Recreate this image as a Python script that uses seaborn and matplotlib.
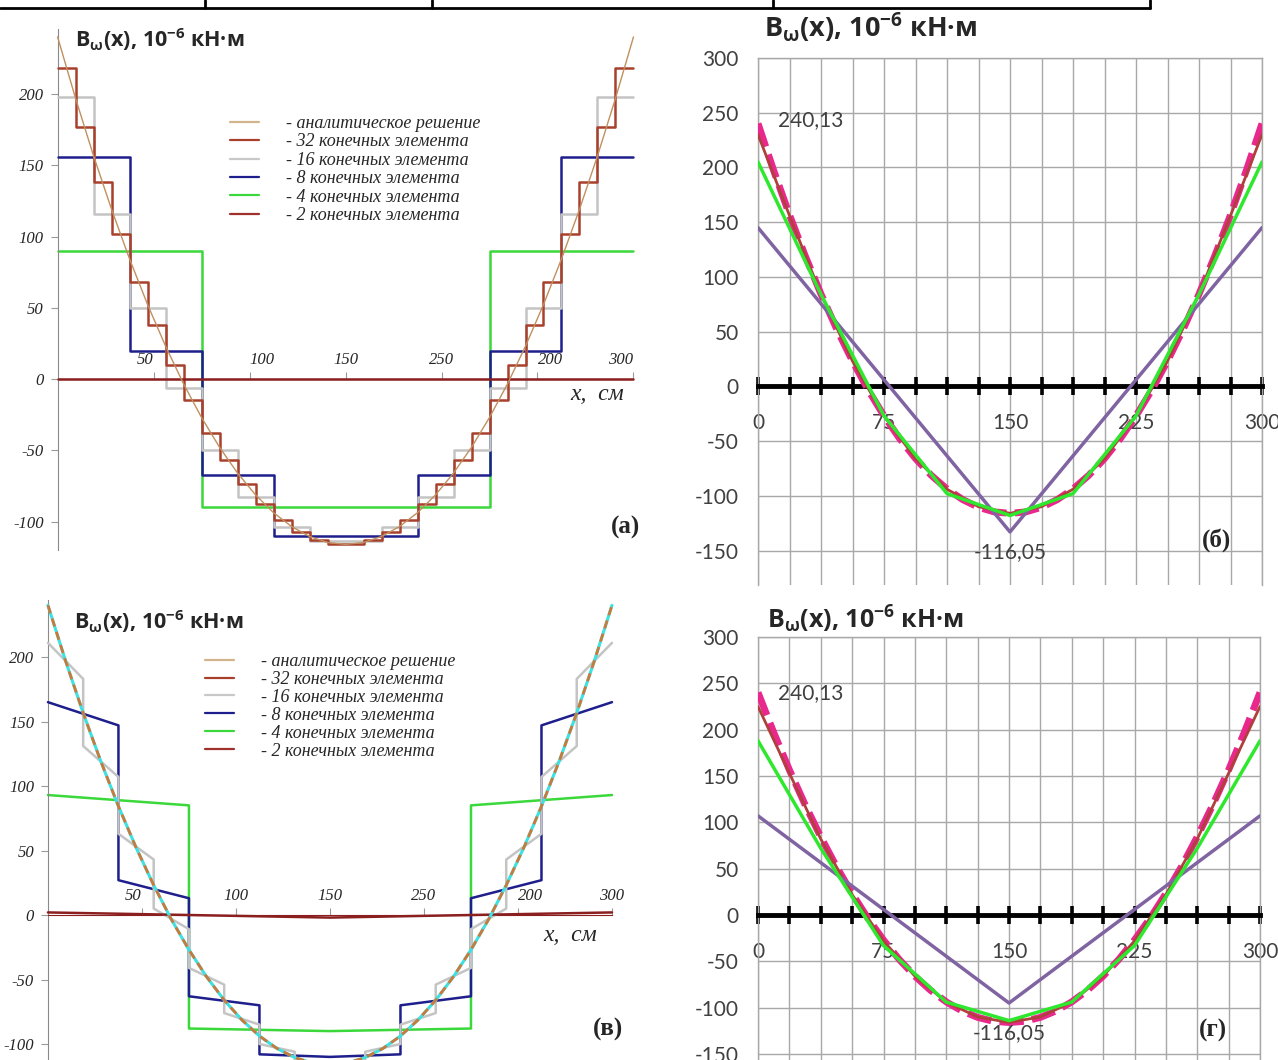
import numpy as np
import matplotlib
matplotlib.use('Agg')
import matplotlib.pyplot as plt
import seaborn as sns
from matplotlib.lines import Line2D
from matplotlib.ticker import FixedLocator
from matplotlib.font_manager import FontProperties

sns.set_style('white')
plt.rcParams['font.family'] = ['Liberation Serif', 'DejaVu Serif']
plt.rcParams['mathtext.default'] = 'regular'

W, H = 1278, 1060

# --- data: B_omega(x), 10^-6 kN*m ; x in cm, beam length 300 cm
x_analytic = np.linspace(0, 300, 33)
analytic = [240.1, 197.0, 156.6, 119.1, 84.3, 52.3, 23.1, -3.4, -27.0, -47.9, -66.0,
            -81.3, -93.8, -103.5, -110.5, -114.7, -116.05, -114.7, -110.5, -103.5, -93.8,
            -81.3, -66.0, -47.9, -27.0, -3.4, 23.1, 52.3, 84.3, 119.1, 156.6, 197.0, 240.1]

# (а) piecewise-constant solutions, one value per element
fe32_a = [218, 177, 138, 102, 68, 38, 10, -15, -38, -57, -74, -88, -99, -107, -113, -116,
          -116, -113, -107, -99, -88, -74, -57, -38, -15, 10, 38, 68, 102, 138, 177, 218]
fe16_a = [198, 116, 50, -6, -50, -83, -104, -114, -114, -104, -83, -50, -6, 50, 116, 198]
fe8_a = [156, 20, -67, -110, -110, -67, 20, 156]
fe4_a = [90, -90, -90, 90]
fe2_a = [0, 0]

# (в) piecewise-linear discontinuous solutions: left / right end value of each element
fe16_v_left = [211, 131, 63, 5, -41, -76, -100, -113, -115, -106, -85, -54, -11, 43, 107, 183]
fe16_v_right = [183, 107, 43, -11, -54, -85, -106, -115, -113, -100, -76, -41, 5, 63, 131, 211]
fe8_v_left = [165, 27, -63, -108, -110, -70, 13, 147]
fe8_v_right = [147, 13, -70, -110, -108, -63, 27, 165]
fe4_v_left = [93, -88, -90, 85]
fe4_v_right = [85, -90, -88, 93]
fe2_v_left = [2, -2]
fe2_v_right = [-2, 2]

# (б), (г) nodal values of continuous solutions
fe16_b = [230, 156, 84, 23, -27, -66, -94, -110, -116, -110, -94, -66, -27, 23, 84, 156, 230]
fe8_b = [205, 84, -27, -98, -118, -98, -27, 84, 205]
fe2_b = [145, -133, 145]
fe16_g = [225, 153, 82, 22, -28, -66, -94, -110, -116, -110, -94, -66, -28, 22, 82, 153, 225]
fe8_g = [188, 72, -33, -94, -114, -94, -33, 72, 188]
fe2_g = [107, -95, 107]

x_ticks_left = [50, 100, 150, 200, 250, 300]
x_ticklabels_left = ['50', '100', '150', '250', '200', '300']
y_ticks_left = [-100, -50, 0, 50, 100, 150, 200]
x_labels_right = ['0', '75', '150', '225', '300']
y_ticks_right = [-150, -100, -50, 0, 50, 100, 150, 200, 250, 300]
legend_labels = ['- аналитическое решение', '- 32 конечных элемента', '- 16 конечных элемента',
                 '- 8 конечных элемента', '- 4 конечных элемента', '- 2 конечных элемента']
legend_colors = ['#d2b48c', '#a8402c', '#c8c8c8', '#1e1e8c', '#3ad83a', '#a0302c']
title = 'B$_{ω}$(x), 10$^{-6}$ кН·м'


def elem_path(left, right):
    edges = np.linspace(0, 300, len(left) + 1)
    xs = np.repeat(edges, 2)[1:-1]
    ys = np.column_stack([left, right]).ravel()
    return xs, ys


def px_axes(x0, y0, x1, y1):
    return fig.add_axes([x0 / W, 1 - y1 / H, (x1 - x0) / W, (y1 - y0) / H])


def line(ax, xs, ys, color, lw, z, ls='-'):
    sns.lineplot(x=xs, y=ys, ax=ax, color=color, lw=lw, zorder=z, sort=False,
                 estimator=None, linestyle=ls)


def style_left(ax, xlim, ylim, ybounds, x_ha):
    ax.set_xlim(xlim)
    ax.set_ylim(ylim)
    ax.spines['right'].set_visible(False)
    ax.spines['bottom'].set_visible(False)
    ax.spines['left'].set_position(('data', 0))
    ax.spines['left'].set_bounds(*ybounds)
    ax.spines['left'].set_color('#8a8a8a')
    ax.spines['top'].set_position(('data', 0))
    ax.spines['top'].set_bounds(0, 300)
    ax.spines['top'].set_color('#8b1f1f')
    ax.xaxis.tick_top()
    ax.set_xticks(x_ticks_left)
    ax.set_xticklabels(x_ticklabels_left)
    ax.set_yticks(y_ticks_left)
    ax.set_yticklabels([str(v) for v in y_ticks_left])
    ax.tick_params(axis='x', top=True, bottom=False, direction='out', length=5, color='#9a9a9a',
                   pad=3, labelsize=12)
    ax.tick_params(axis='y', left=True, direction='out', length=5, color='#9a9a9a', pad=5, labelsize=12)
    for lab, ha in zip(ax.get_xticklabels(), x_ha):
        lab.set_fontstyle('italic')
        lab.set_ha(ha)
    for lab in ax.get_yticklabels():
        lab.set_fontstyle('italic')
    ax.set_xlabel('')
    ax.set_ylabel('')


def style_right(ax, ylim):
    ax.set_xlim(0, 300)
    ax.set_ylim(ylim)
    grid_x = np.linspace(0, 300, 17)
    ax.xaxis.set_major_locator(FixedLocator(grid_x))
    ax.set_xticklabels([x_labels_right[i // 4] if i % 4 == 0 else '' for i in range(17)])
    ax.set_yticks(y_ticks_right)
    ax.set_yticklabels([str(v) for v in y_ticks_right])
    ax.grid(True, color='#a8a8a8', lw=1)
    for s in ['left', 'top', 'right']:
        ax.spines[s].set_color('#a8a8a8')
        ax.spines[s].set_linewidth(1)
    ax.spines['bottom'].set_position(('data', 0))
    ax.spines['bottom'].set_color('black')
    ax.spines['bottom'].set_linewidth(3.5)
    ax.spines['bottom'].set_zorder(2.6)
    ax.tick_params(axis='x', bottom=True, direction='inout', length=13, width=2.6, color='black',
                   pad=13, labelsize=15, labelcolor='#404040')
    ax.tick_params(axis='y', left=False, length=0, pad=14, labelsize=15, labelcolor='#404040')
    for lab in ax.get_xticklabels() + ax.get_yticklabels():
        lab.set_family(['Lato', 'DejaVu Sans'])
    ax.set_xlabel('')
    ax.set_ylabel('')


fig = plt.figure(figsize=(W / 100, H / 100), dpi=100)

# table border at the very top
fig.add_artist(Line2D([0, 1150 / W], [1 - 8 / H] * 2, color='black', lw=2, transform=fig.transFigure))
for xv in [205, 432, 773, 1150]:
    fig.add_artist(Line2D([xv / W] * 2, [1, 1 - 8 / H], color='black', lw=2, transform=fig.transFigure))

serif_it = FontProperties(family='Liberation Serif', style='italic', size=13)
handles = [Line2D([], [], color=c, lw=1.6) for c in legend_colors]
title_font = ['Open Sans', 'DejaVu Sans']

# ---------- (а)
ax_a = px_axes(0, 20, 645, 560)
line(ax_a, *elem_path(fe4_a, fe4_a), '#3ad83a', 1.8, 2)
line(ax_a, *elem_path(fe8_a, fe8_a), '#1e1e8c', 1.8, 3)
line(ax_a, *elem_path(fe16_a, fe16_a), '#c4c4c4', 1.8, 4)
line(ax_a, *elem_path(fe32_a, fe32_a), '#a8402c', 1.8, 5)
line(ax_a, *elem_path(fe2_a, fe2_a), '#8b1f1f', 1.8, 5)
line(ax_a, x_analytic, analytic, '#c09060', 1.0, 6)
style_left(ax_a, (-30, 306), (-127, 252), (-120, 246),
           ['right', 'left', 'center', 'center', 'left', 'right'])
ax_a.text(281, -11, 'x,  см', fontsize=17, fontstyle='italic', ha='center', va='center')
ax_a.text(296, -104, '(а)', fontsize=18, fontweight='bold', ha='center', va='center')
fig.text(75 / W, 1 - 40 / H, title, fontsize=15.5, fontweight='bold', family=title_font,
         ha='left', va='center')
fig.legend(handles, legend_labels, loc='upper left', bbox_to_anchor=(230 / W, 1 - 115 / H),
           frameon=False, prop=serif_it, handlelength=1.6, handletextpad=1.5, labelspacing=0.08,
           borderpad=0, borderaxespad=0)

# ---------- (в)
ax_v = px_axes(0, 600, 640, 1060)
line(ax_v, *elem_path(fe4_v_left, fe4_v_right), '#3ad83a', 1.8, 2)
line(ax_v, *elem_path(fe8_v_left, fe8_v_right), '#1e1e8c', 1.8, 3)
line(ax_v, *elem_path(fe16_v_left, fe16_v_right), '#c4c4c4', 1.8, 4)
line(ax_v, *elem_path(fe2_v_left, fe2_v_right), '#8b1f1f', 1.8, 5)
line(ax_v, x_analytic, analytic, '#3ee0e0', 2.2, 6)
line(ax_v, x_analytic, analytic, '#c87a3c', 2.0, 7, ls=(0, (3, 2)))
style_left(ax_v, (-25.5, 314.9), (-112.4, 244.2), (-112.4, 244.2),
           ['right', 'center', 'center', 'center', 'left', 'center'])
ax_v.text(278, -15.5, 'x,  см', fontsize=17, fontstyle='italic', ha='center', va='center')
ax_v.text(298, -89, '(в)', fontsize=18, fontweight='bold', ha='center', va='center')
fig.text(74 / W, 1 - 622 / H, title, fontsize=15.5, fontweight='bold', family=title_font,
         ha='left', va='center')
fig.legend(handles, legend_labels, loc='upper left', bbox_to_anchor=(205 / W, 1 - 653 / H),
           frameon=False, prop=serif_it, handlelength=1.6, handletextpad=1.5, labelspacing=0.05,
           borderpad=0, borderaxespad=0)

# ---------- (б)
x16 = np.linspace(0, 300, 17)
x8 = np.linspace(0, 300, 9)
x2 = np.linspace(0, 300, 3)

ax_b = px_axes(758, 58, 1262, 585)
line(ax_b, x_analytic, analytic, '#e8288c', 5, 3, ls=(0, (3.5, 1.2)))
line(ax_b, x16, fe16_b, '#b0403c', 2, 4)
line(ax_b, x2, fe2_b, '#8064a2', 2.5, 4)
line(ax_b, x8, fe8_b, '#2ee82e', 2.5, 5)
style_right(ax_b, (-181.5, 300))
ax_b.text(12, 243, '240,13', fontsize=15, color='#404040', family=['Lato', 'DejaVu Sans'],
          ha='left', va='center')
ax_b.text(150, -151, '-116,05', fontsize=15, color='#404040', family=['Lato', 'DejaVu Sans'],
          ha='center', va='center')
ax_b.text(273, -140, '(б)', fontsize=18, fontweight='bold', ha='center', va='center')
fig.text(764 / W, 1 - 28 / H, title, fontsize=19.5, fontweight='bold', family=title_font,
         ha='left', va='center')

# ---------- (г)
ax_g = px_axes(758, 637, 1260, 1060)
line(ax_g, x_analytic, analytic, '#e8288c', 5, 3, ls=(0, (3.5, 1.2)))
line(ax_g, x16, fe16_g, '#b0403c', 2, 4)
line(ax_g, x2, fe2_g, '#8064a2', 2.5, 4)
line(ax_g, x8, fe8_g, '#2ee82e', 2.5, 5)
style_right(ax_g, (-156.5, 300))
ax_g.text(12, 240, '240,13', fontsize=15, color='#404040', family=['Lato', 'DejaVu Sans'],
          ha='left', va='center')
ax_g.text(150, -127, '-116,05', fontsize=15, color='#404040', family=['Lato', 'DejaVu Sans'],
          ha='center', va='center')
ax_g.text(272, -125, '(г)', fontsize=18, fontweight='bold', ha='center', va='center')
fig.text(767 / W, 1 - 619 / H, title, fontsize=18, fontweight='bold', family=title_font,
         ha='left', va='center')

fig.savefig('out.png', dpi=100)
